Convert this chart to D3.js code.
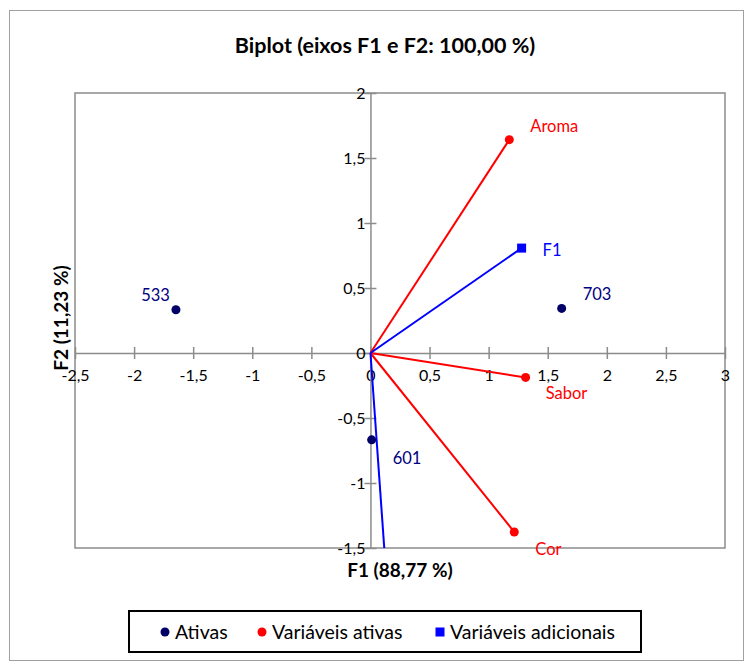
<!DOCTYPE html>
<html lang="pt">

<head>
    <meta charset="utf-8">
    <script src="https://d3js.org/d3.v7.min.js"></script>
    <style>
        body { margin: 0; background: #fff; font-family: Lato, "Open Sans", sans-serif; }
    </style>
</head>

<body>
    <div id="chart"></div>

    <script>
        // Observations (Ativas)
        const obsNames = ["533", "601", "703"];
        const obsX = [-1.646, 0.01, 1.618];
        const obsY = [0.333, -0.668, 0.343];

        // Active variables
        const actNames = ["Aroma", "Sabor", "Cor"];
        const actX = [1.175, 1.313, 1.217];
        const actY = [1.641, -0.188, -1.377];

        // Supplementary variables
        const supNames = ["F1", "F2"];
        const supX = [1.279, 0.13];
        const supY = [0.807, -1.67];

        const xTicks = [-2.5, -2, -1.5, -1, -0.5, 0, 0.5, 1, 1.5, 2, 2.5, 3];
        const yTicks = [-1.5, -1, -0.5, 0, 0.5, 1, 1.5, 2];

        const legendLabels = ["Ativas", "Variáveis ativas", "Variáveis adicionais"];

        // label offsets relative to each point (dx, dy, anchor)
        const labelOffset = {
            "533": [-6, -14, "end"], "601": [21, 18, "start"], "703": [21, -14, "start"],
            "Aroma": [21, -13, "start"], "Sabor": [20, 16, "start"], "Cor": [21, 17, "start"],
            "F1": [21, 2, "start"], "F2": [21, 2, "start"]
        };

        const width = 745, height = 661;
        const plot = { left: 75, right: 725, top: 93, bottom: 548 };

        const fmt = v => String(v).replace(".", ",");

        const svg = d3.select("#chart").append("svg")
            .attr("width", width)
            .attr("height", height);

        // outer frame
        svg.append("rect")
            .attr("x", 9.5).attr("y", 10.5)
            .attr("width", 734).attr("height", 650)
            .attr("fill", "#fff").attr("stroke", "#a0a0a0").attr("stroke-width", 1);

        // title
        svg.append("text")
            .attr("x", 385).attr("y", 53)
            .attr("text-anchor", "middle")
            .attr("font-size", 21.5).attr("font-weight", "bold")
            .text("Biplot (eixos F1 e F2: 100,00 %)");

        const x = d3.scaleLinear().domain([-2.5, 3]).range([plot.left, plot.right]);
        const y = d3.scaleLinear().domain([-1.5, 2]).range([plot.bottom, plot.top]);

        // plot border
        svg.append("rect")
            .attr("x", plot.left).attr("y", plot.top)
            .attr("width", plot.right - plot.left).attr("height", plot.bottom - plot.top)
            .attr("fill", "none").attr("stroke", "#8c8c8c").attr("stroke-width", 1.5);

        // x axis through y = 0
        const xAxis = svg.append("g")
            .attr("transform", `translate(0,${y(0)})`)
            .call(d3.axisBottom(x).tickValues(xTicks).tickFormat(fmt).tickSizeInner(5).tickSizeOuter(0));
        xAxis.select(".domain").attr("stroke", "#8c8c8c").attr("stroke-width", 1.5);
        xAxis.selectAll(".tick line").attr("stroke", "#8c8c8c").attr("stroke-width", 1.5).attr("y1", -6).attr("y2", 6);
        xAxis.selectAll(".tick text").attr("y", 17).attr("dy", "0.71em")
            .attr("font-size", 16).attr("font-family", "Lato, sans-serif").attr("fill", "#000");

        // y axis through x = 0
        const yAxis = svg.append("g")
            .attr("transform", `translate(${x(0)},0)`)
            .call(d3.axisLeft(y).tickValues(yTicks).tickFormat(fmt).tickSizeInner(5).tickSizeOuter(0));
        yAxis.select(".domain").attr("stroke", "#8c8c8c").attr("stroke-width", 1.5);
        yAxis.selectAll(".tick line").attr("stroke", "#8c8c8c").attr("stroke-width", 1.5).attr("x1", -6).attr("x2", 6);
        yAxis.selectAll(".tick text").attr("x", -5)
            .attr("font-size", 16).attr("font-family", "Lato, sans-serif").attr("fill", "#000");

        // axis titles
        svg.append("text")
            .attr("x", 400).attr("y", 577)
            .attr("text-anchor", "middle")
            .attr("font-size", 19).attr("font-weight", "bold")
            .text("F1 (88,77 %)");
        svg.append("text")
            .attr("transform", "translate(68,318) rotate(-90)")
            .attr("text-anchor", "middle")
            .attr("font-size", 19).attr("font-weight", "bold")
            .text("F2 (11,23 %)");

        // clip to plot area
        svg.append("clipPath").attr("id", "clip")
            .append("rect")
            .attr("x", plot.left).attr("y", plot.top)
            .attr("width", plot.right - plot.left).attr("height", plot.bottom - plot.top);
        const g = svg.append("g").attr("clip-path", "url(#clip)");

        const act = actNames.map((n, i) => ({ name: n, x: actX[i], y: actY[i] }));
        const sup = supNames.map((n, i) => ({ name: n, x: supX[i], y: supY[i] }));
        const obs = obsNames.map((n, i) => ({ name: n, x: obsX[i], y: obsY[i] }));

        // vectors
        g.selectAll(".vact").data(act).enter().append("line")
            .attr("x1", x(0)).attr("y1", y(0))
            .attr("x2", d => x(d.x)).attr("y2", d => y(d.y))
            .attr("stroke", "#ff0000").attr("stroke-width", 2);
        g.selectAll(".vsup").data(sup).enter().append("line")
            .attr("x1", x(0)).attr("y1", y(0))
            .attr("x2", d => x(d.x)).attr("y2", d => y(d.y))
            .attr("stroke", "#0000ff").attr("stroke-width", 2);

        // markers
        g.selectAll(".mobs").data(obs).enter().append("circle")
            .attr("cx", d => x(d.x)).attr("cy", d => y(d.y)).attr("r", 4.5)
            .attr("fill", "#000066");
        g.selectAll(".mact").data(act).enter().append("circle")
            .attr("cx", d => x(d.x)).attr("cy", d => y(d.y)).attr("r", 4.5)
            .attr("fill", "#ff0000");
        g.selectAll(".msup").data(sup).enter().append("rect")
            .attr("x", d => x(d.x) - 4.5).attr("y", d => y(d.y) - 4.5)
            .attr("width", 9).attr("height", 9)
            .attr("fill", "#0000ff");

        // point labels
        function addLabels(data, color) {
            svg.selectAll(null).data(data.filter(d => d.y >= -1.5)).enter().append("text")
                .attr("x", d => x(d.x) + labelOffset[d.name][0])
                .attr("y", d => y(d.y) + labelOffset[d.name][1])
                .attr("dy", "0.35em")
                .attr("text-anchor", d => labelOffset[d.name][2])
                .attr("font-size", 16.5)
                .attr("fill", color)
                .text(d => d.name);
        }
        addLabels(obs, "#000080");
        addLabels(act, "#ff0000");
        addLabels(sup, "#0000ff");

        // legend
        const leg = svg.append("g");
        leg.append("rect")
            .attr("x", 129).attr("y", 611)
            .attr("width", 512).attr("height", 41)
            .attr("fill", "#fff").attr("stroke", "#000").attr("stroke-width", 2);
        const legX = [165, 262, 440];
        const legCol = ["#000066", "#ff0000", "#0000ff"];
        legendLabels.forEach((t, i) => {
            if (i < 2) {
                leg.append("circle").attr("cx", legX[i]).attr("cy", 632).attr("r", 4.5).attr("fill", legCol[i]);
            } else {
                leg.append("rect").attr("x", legX[i] - 4.5).attr("y", 627.5).attr("width", 9).attr("height", 9).attr("fill", legCol[i]);
            }
            leg.append("text")
                .attr("x", legX[i] + 10).attr("y", 632).attr("dy", "0.35em")
                .attr("font-size", 19.5)
                .text(t);
        });
    </script>
</body>

</html>
